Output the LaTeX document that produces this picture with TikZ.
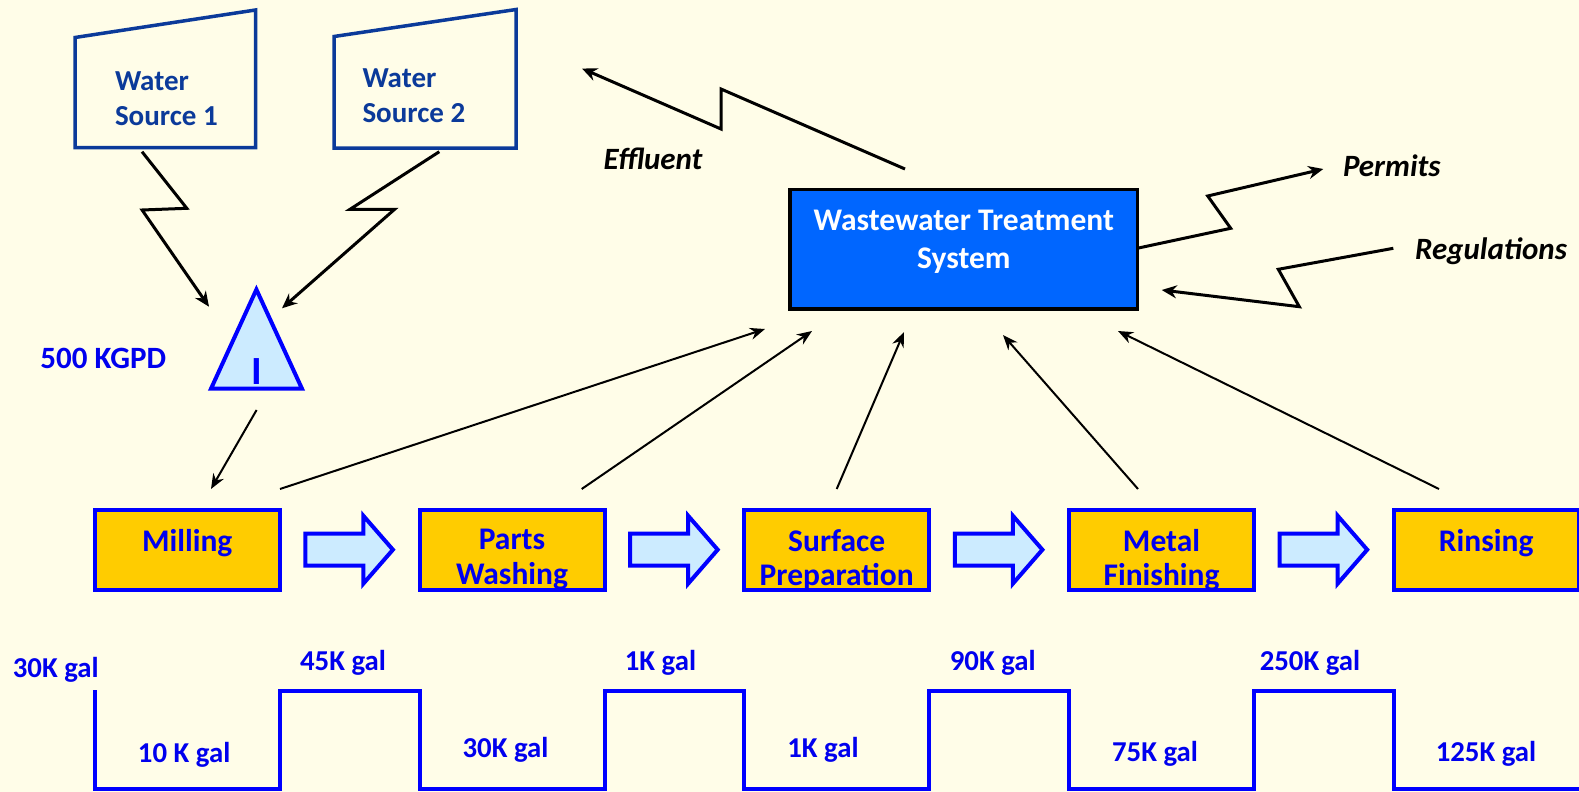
\documentclass[tikz,border=0pt]{standalone}
\usepackage{fontspec}
\setmainfont{Carlito}
\usetikzlibrary{arrows.meta,calc}
\definecolor{bgc}{HTML}{FFFDE8}
\definecolor{srcblue}{HTML}{0B3A9A}
\definecolor{pblue}{HTML}{0000FF}
\definecolor{tblue}{HTML}{0000EE}
\definecolor{gold}{HTML}{FFCC00}
\definecolor{lblue}{HTML}{CCEBFF}
\definecolor{wtsblue}{HTML}{0066FF}
\tikzset{
  every node/.style={inner sep=0pt, outer sep=0pt},
  procbox/.style={draw=pblue, line width=4pt, fill=gold, minimum width=185pt, minimum height=80pt},
  proclabel/.style={font=\fontsize{31.5}{34.4}\selectfont\bfseries, text=tblue, align=center, anchor=north, execute at begin node=\strut},
  flowarrow/.style={draw=pblue, line width=4pt, fill=lblue, line join=miter},
  srcbox/.style={draw=srcblue, line width=3.5pt, line join=miter},
  srclabel/.style={font=\fontsize{29}{34.7}\selectfont\bfseries, text=srcblue, align=left, anchor=north west, execute at begin node=\strut},
  zig/.style={line width=3pt, line join=miter, -{Stealth[length=15pt,width=13pt]}},
  thinarrow/.style={line width=2pt, -{Stealth[length=15pt,width=12pt]}},
  gallabel/.style={font=\fontsize{28.8}{30}\selectfont\bfseries, text=tblue, anchor=base},
  sidelabel/.style={font=\fontsize{31}{34}\selectfont\bfseries\itshape, text=black, anchor=base},
  wave/.style={draw=pblue, line width=4pt, line join=miter},
}
% #1 = box the arrow leaves, #2 = horizontal shift
\newcommand\flowarr[2]{%
  \draw[flowarrow,xshift=#2] ($(#1.east)+(25.6,-16)$) -- ++(58,0) -- ++(0,-18)
    -- ($(#1.east)+(113.2,0)$) -- ($(#1.east)+(83.6,34)$) -- ++(0,-18)
    -- ($(#1.east)+(25.6,16)$) -- cycle;}
\begin{document}
\begin{tikzpicture}[x=1pt,y=-1pt]
\useasboundingbox (0,0) rectangle (1579,792);
\fill[bgc] (0,0) rectangle (1579,792);

% water sources
\draw[srcbox] (75,37.5) -- (255.5,10) -- (255.5,147.5) -- (75,147.5) -- cycle;
\draw[srcbox] (334,36.5) -- (516,9.5) -- (516,148) -- (334,148) -- cycle;
\node[srclabel] (ws1) at (115,72) {Water\\Source 1};
\node[srclabel] (ws2) at (362.5,68.7) {Water\\Source 2};

% intake triangle
\draw[draw=pblue, fill=lblue, line width=4pt, line join=miter]
  (256.4,289.5) -- (302,388.7) -- (211,388.7) -- cycle;
\node[font=\fontsize{40}{44}\selectfont\bfseries, text=pblue, anchor=base] (tri) at (256.4,384) {I};
\node[font=\fontsize{31}{34}\selectfont\bfseries, text=tblue, anchor=base] (kgpd) at (103.2,368.3) {500 KGPD};

% process boxes
\node[procbox] (milling) at (187.2,549.7) {};
\node[procbox] (parts)   at (512,549.7) {};
\node[procbox] (surface) at (836.7,549.7) {};
\node[procbox] (metal)   at (1161.5,549.7) {};
\node[procbox] (rinsing) at (1486.2,549.7) {};
\node[proclabel] (millingT) at ($(milling.north)+(0,18.2)$) {Milling};
\node[proclabel] (partsT)   at ($(parts.north)+(0,19.5)$) {Parts\\Washing};
\node[proclabel] (surfaceT) at ($(surface.north)+(0,19.5)$) {Surface\\Preparation};
\node[proclabel] (metalT)   at ($(metal.north)+(0,19.5)$) {Metal\\Finishing};
\node[proclabel] (rinsingT) at ($(rinsing.north)+(0,18.2)$) {Rinsing};
\flowarr{milling}{5pt}
\flowarr{parts}{-1pt}
\flowarr{surface}{0pt}
\flowarr{metal}{-4pt}

% wastewater treatment system
\node[draw=black, line width=3.5pt, fill=wtsblue, minimum width=347.5pt, minimum height=119.5pt] (wts) at (963.8,249.2) {};
\node[font=\fontsize{31.5}{38.3}\selectfont\bfseries, text=white, align=center, anchor=north, execute at begin node=\strut] (wtsT) at ($(wts.north)+(0,20.7)$) {Wastewater Treatment\\System};

% side labels
\node[sidelabel] (effl) at (653,169) {Effluent};
\node[sidelabel] (perm) at (1391.8,176) {Permits};
\node[sidelabel] (regs) at (1491,259.3) {Regulations};

% connector end points
\coordinate (ws1out) at (142,151.7);
\coordinate (ws2out) at (439.3,151.7);
\coordinate (triin1) at (209,306.7);
\coordinate (triin2) at (282,308.3);
\coordinate (triout) at (256.6,410);
\coordinate (millin) at (211,489);
\coordinate (millout) at (280,489);
\coordinate (partsout) at (581.7,489);
\coordinate (surfout) at (836.7,489);
\coordinate (metalout) at (1138,489);
\coordinate (rinsout) at (1439,489);
\coordinate (wtsin1) at (765,329);
\coordinate (wtsin2) at (812,331);
\coordinate (wtsin3) at (904,332);
\coordinate (wtsin4) at (1003,335);
\coordinate (wtsin5) at (1118,331);
\coordinate (wtsout) at (905,169);
\coordinate (efflend) at (582,68.5);
\coordinate (permend) at (1323.3,169);
\coordinate (regstart) at (1393.3,248.3);
\coordinate (regend) at (1161.7,290);

% zigzag connectors
\draw[zig] (ws1out) -- (186.8,208.3) -- (142.1,210) -- (triin1);
\draw[zig] (ws2out) -- (350,209.3) -- (394.6,209.3) -- (triin2);
\draw[zig] (wtsout) -- (721,89) -- (721,129) -- (efflend);
\draw[zig] ($(wts.east)+(0,-1)$) -- (1230.7,228.3) -- (1207.7,196) -- (permend);
\draw[zig] (regstart) -- (1278.3,269.3) -- (1299.3,306.7) -- (regend);

% thin connectors
\draw[thinarrow] (triout) -- (millin);
\draw[thinarrow] (millout) -- (wtsin1);
\draw[thinarrow] (partsout) -- (wtsin2);
\draw[thinarrow] (surfout) -- (wtsin3);
\draw[thinarrow] (metalout) -- (wtsin4);
\draw[thinarrow] (rinsout) -- (wtsin5);

% volume waveform
\coordinate (hi) at (0,690.5);
\coordinate (lo) at (0,788.5);
\draw[wave] (milling.west |- 0,690) -- (milling.west |- lo) -- (milling.east |- lo)
  -- (milling.east |- hi) -- (parts.west |- hi) -- (parts.west |- lo)
  -- (parts.east |- lo) -- (parts.east |- hi) -- (surface.west |- hi)
  -- (surface.west |- lo) -- (surface.east |- lo) -- (surface.east |- hi)
  -- (metal.west |- hi) -- (metal.west |- lo) -- (metal.east |- lo)
  -- (metal.east |- hi) -- (rinsing.west |- hi) -- (rinsing.west |- lo)
  -- (1581,788.5);

\node[gallabel] (g1) at (55.8,677.7) {30K gal};
\node[gallabel] (g2) at (184.2,762) {10 K gal};
\node[gallabel] (g3) at (343,670) {45K gal};
\node[gallabel] (g4) at (505.5,757.5) {30K gal};
\node[gallabel] (g5) at (660.5,670) {1K gal};
\node[gallabel] (g6) at (823,757.7) {1K gal};
\node[gallabel] (g7) at (992.8,670) {90K gal};
\node[gallabel] (g8) at (1155,761) {75K gal};
\node[gallabel] (g9) at (1310,670) {250K gal};
\node[gallabel] (g10) at (1486,761) {125K gal};
\end{tikzpicture}
\end{document}
